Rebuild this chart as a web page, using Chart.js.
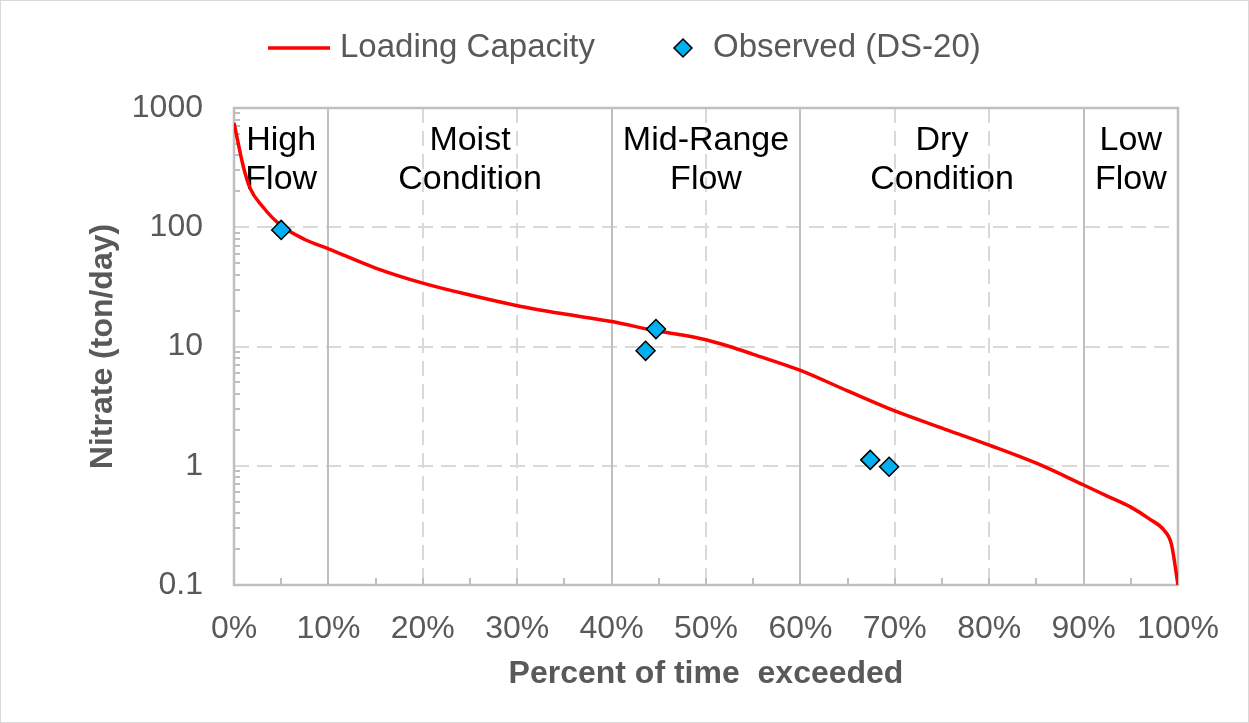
<!DOCTYPE html>
<html>
<head>
<meta charset="utf-8">
<title>Nitrate Load Duration Curve</title>
<script src="https://cdn.jsdelivr.net/npm/chart.js@4/dist/chart.umd.min.js"></script>
<style>
    html, body { margin: 0; padding: 0; background: #fff; }
    #wrap { width: 1249px; height: 723px; }
</style>
</head>
<body>
<div id="wrap"><canvas id="ldc" width="1249" height="723"></canvas></div>
<script>
// --- Loading capacity curve (percent of time exceeded vs ton/day) ---
var curvePct = [0, 1, 1.7, 3, 5, 7.5, 10, 15, 20, 25, 30, 35, 40, 45, 47.5, 50, 52.5, 55, 60, 65, 70, 75, 80, 85, 90, 92.5, 95, 97, 98.5, 99.3, 100];
var curveLoad = [750, 320, 213, 150, 103, 79, 66, 45.5, 34, 27, 22, 18.7, 16.2, 13.4, 12.5, 11.4, 10.0, 8.6, 6.3, 4.24, 2.88, 2.07, 1.49, 1.05, 0.69, 0.557, 0.45, 0.357, 0.289, 0.22, 0.1];

// --- Observed samples at DS-20 ---
var obsPct = [5.0, 44.7, 43.6, 67.4, 69.4];
var obsLoad = [95, 14.0, 9.2, 1.12, 0.98];

// --- Flow zones ---
var zoneBreaks = [10, 40, 60, 90];
var zoneCenters = [5, 25, 50, 75, 95];
var zoneNames = [['High', 'Flow'], ['Moist', 'Condition'], ['Mid-Range', 'Flow'], ['Dry', 'Condition'], ['Low', 'Flow']];

var dashedX = [20, 30, 50, 70, 80];
var dashedY = [1, 10, 100];
var yTicks = [0.1, 1, 10, 100, 1000];

var FONT = '"Liberation Sans", Arial, sans-serif';
var GRAY_TEXT = '#595959';
var RED = '#ff0000';
var MARKER = '#00b0f0';

function line(ctx, x1, y1, x2, y2) {
    ctx.beginPath();
    ctx.moveTo(x1, y1);
    ctx.lineTo(x2, y2);
    ctx.stroke();
}

// grid, frame, minor ticks and zone captions behind the data
var backdrop = {
    id: 'backdrop',
    beforeDatasetsDraw: function (chart) {
        var ctx = chart.ctx, a = chart.chartArea;
        var xs = chart.scales.x, ys = chart.scales.y;
        ctx.save();

        ctx.strokeStyle = '#d9d9d9';
        ctx.lineWidth = 2;
        ctx.setLineDash([15, 8]);
        dashedY.forEach(function (v) {
            var y = Math.round(ys.getPixelForValue(v));
            line(ctx, a.left, y, a.right, y);
        });
        dashedX.forEach(function (v) {
            var x = Math.round(xs.getPixelForValue(v));
            line(ctx, x, a.top, x, a.bottom);
        });
        ctx.setLineDash([]);

        ctx.strokeStyle = '#bfbfbf';
        zoneBreaks.forEach(function (v) {
            var x = Math.round(xs.getPixelForValue(v));
            line(ctx, x, a.top, x, a.bottom);
        });

        // minor ticks on the log axis
        for (var e = -1; e < 3; e++) {
            for (var k = 2; k <= 9; k++) {
                var y = Math.round(ys.getPixelForValue(k * Math.pow(10, e)));
                line(ctx, a.left, y, a.left + 6, y);
            }
        }
        // ticks every 5% along the bottom
        for (var p = 5; p < 100; p += 5) {
            var x = Math.round(xs.getPixelForValue(p));
            line(ctx, x, a.bottom, x, a.bottom - 7);
        }

        ctx.lineWidth = 2.5;
        ctx.strokeRect(a.left, a.top, a.right - a.left, a.bottom - a.top);

        // zone captions
        ctx.fillStyle = '#000';
        ctx.font = '34px ' + FONT;
        ctx.textAlign = 'center';
        ctx.textBaseline = 'alphabetic';
        zoneCenters.forEach(function (c, i) {
            var x = xs.getPixelForValue(c);
            ctx.fillText(zoneNames[i][0], x, a.top + 42);
            ctx.fillText(zoneNames[i][1], x, a.top + 81);
        });
        ctx.restore();
    },
    afterDraw: function (chart) {
        var ctx = chart.ctx;
        ctx.save();
        // legend
        var ly = 48;
        ctx.strokeStyle = RED;
        ctx.lineWidth = 3.5;
        line(ctx, 268, ly, 330, ly);
        ctx.fillStyle = GRAY_TEXT;
        ctx.font = '33px ' + FONT;
        ctx.textAlign = 'left';
        ctx.textBaseline = 'middle';
        ctx.fillText('Loading Capacity', 340, ly);
        ctx.beginPath();
        ctx.moveTo(683, ly - 9);
        ctx.lineTo(692, ly);
        ctx.lineTo(683, ly + 9);
        ctx.lineTo(674, ly);
        ctx.closePath();
        ctx.fillStyle = MARKER;
        ctx.fill();
        ctx.strokeStyle = '#000';
        ctx.lineWidth = 1.5;
        ctx.stroke();
        ctx.fillStyle = GRAY_TEXT;
        ctx.fillText('Observed (DS-20)', 713, ly);

        // outer border of the chart
        ctx.strokeStyle = '#d9d9d9';
        ctx.lineWidth = 1;
        ctx.strokeRect(0.5, 0.5, chart.width - 1, chart.height - 1);
        ctx.restore();
    }
};

var curveData = curvePct.map(function (p, i) { return { x: p, y: curveLoad[i] }; });
var obsData = obsPct.map(function (p, i) { return { x: p, y: obsLoad[i] }; });

new Chart(document.getElementById('ldc').getContext('2d'), {
    type: 'scatter',
    data: {
        datasets: [
            {
                label: 'Observed (DS-20)',
                data: obsData,
                pointStyle: 'rectRot',
                pointRadius: 9.5,
                pointBackgroundColor: MARKER,
                pointBorderColor: '#000',
                pointBorderWidth: 1.5,
                order: 0
            },
            {
                label: 'Loading Capacity',
                data: curveData,
                showLine: true,
                borderColor: RED,
                borderWidth: 3.5,
                pointRadius: 0,
                cubicInterpolationMode: 'monotone',
                order: 1
            }
        ]
    },
    options: {
        responsive: false,
        animation: false,
        layout: { padding: { top: 108, right: 71, left: 0, bottom: 0 } },
        plugins: { legend: { display: false }, tooltip: { enabled: false } },
        scales: {
            x: {
                type: 'linear',
                min: 0,
                max: 100,
                afterFit: function (s) { s.height = 138; },
                grid: { display: false, drawTicks: false },
                border: { display: false },
                ticks: {
                    stepSize: 10,
                    padding: 25,
                    color: GRAY_TEXT,
                    font: { family: FONT, size: 32 },
                    maxRotation: 0,
                    callback: function (v) { return v + '%'; }
                },
                title: {
                    display: true,
                    text: 'Percent of time  exceeded',
                    color: GRAY_TEXT,
                    font: { family: FONT, size: 32, weight: 'bold' },
                    padding: { top: 0, bottom: 30 }
                }
            },
            y: {
                type: 'logarithmic',
                min: 0.1,
                max: 1000,
                afterFit: function (s) { s.width = 234; },
                afterBuildTicks: function (s) {
                    s.ticks = yTicks.map(function (v) { return { value: v }; });
                },
                grid: { display: false, drawTicks: false },
                border: { display: false },
                ticks: {
                    padding: 31,
                    color: GRAY_TEXT,
                    font: { family: FONT, size: 32 },
                    callback: function (v) { return String(v); }
                },
                title: {
                    display: true,
                    text: 'Nitrate (ton/day)',
                    color: GRAY_TEXT,
                    font: { family: FONT, size: 32, weight: 'bold' },
                    padding: { top: 84, bottom: 0 }
                }
            }
        }
    },
    plugins: [backdrop]
});
</script>
</body>
</html>
